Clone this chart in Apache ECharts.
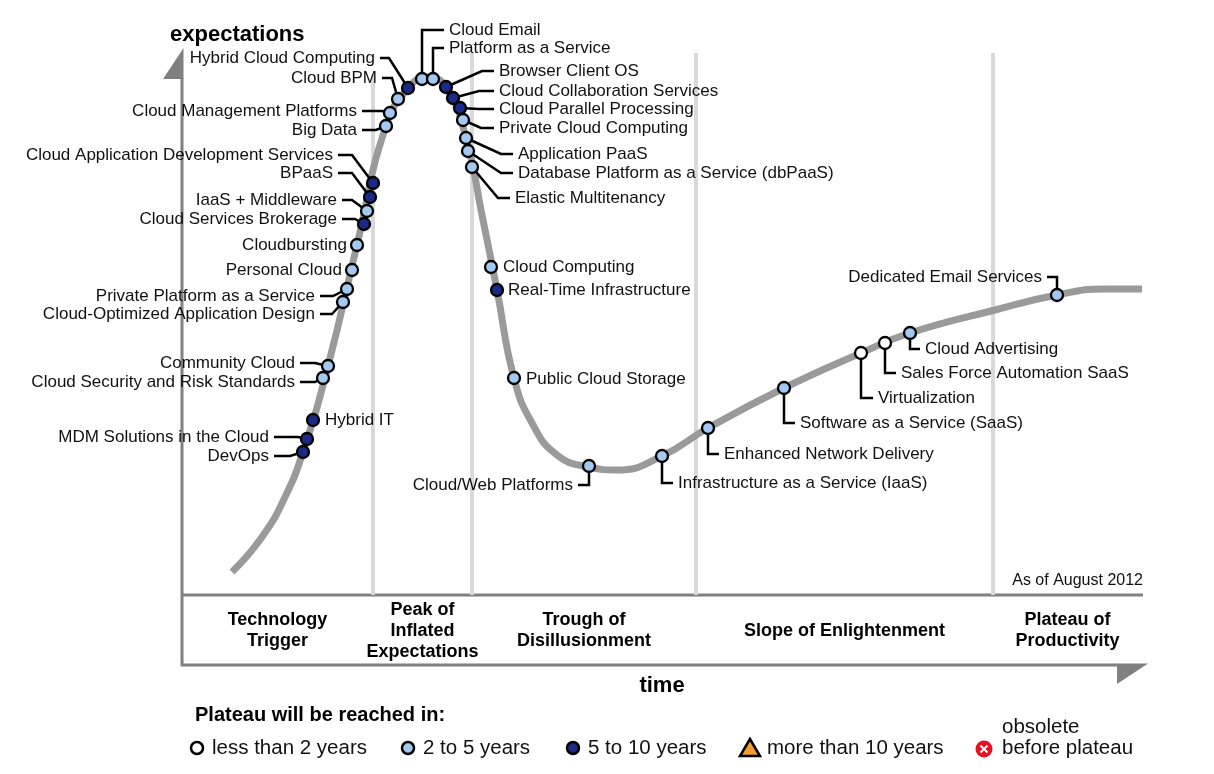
<!DOCTYPE html>
<html><head><meta charset="utf-8">
<script src="https://cdn.jsdelivr.net/npm/echarts@6/dist/echarts.min.js"></script>
<style>html,body{margin:0;padding:0;background:#fff}#c{width:1214px;height:774px}</style>
</head><body><div id="c"></div>
<script>
const FONT = '"Liberation Sans", Arial, Helvetica, sans-serif';

// ---- data ----
const techNames = [
  'DevOps', 'MDM Solutions in the Cloud', 'Hybrid IT', 'Cloud Security and Risk Standards',
  'Community Cloud', 'Cloud-Optimized Application Design', 'Private Platform as a Service',
  'Personal Cloud', 'Cloudbursting', 'Cloud Services Brokerage', 'IaaS + Middleware', 'BPaaS',
  'Cloud Application Development Services', 'Big Data', 'Cloud Management Platforms', 'Cloud BPM',
  'Hybrid Cloud Computing', 'Cloud Email', 'Platform as a Service', 'Browser Client OS',
  'Cloud Collaboration Services', 'Cloud Parallel Processing', 'Private Cloud Computing',
  'Application PaaS', 'Database Platform as a Service (dbPaaS)', 'Elastic Multitenancy',
  'Cloud Computing', 'Real-Time Infrastructure', 'Public Cloud Storage', 'Cloud/Web Platforms',
  'Infrastructure as a Service (IaaS)', 'Enhanced Network Delivery', 'Software as a Service (SaaS)',
  'Virtualization', 'Sales Force Automation SaaS', 'Cloud Advertising', 'Dedicated Email Services'
];
// position along time axis
const techTime = [121,125,131,141,146,161,165,170,175,182,185,188,191,204,208,216,226,240,251,264,271,278,281,284,286,290,309,315,332,407,480,526,602,679,703,728,875];
// expectations level
const techExpect = [143,156,175,217,229,293,306,325,350,371,384,398,412,469,482,496,507,516,516,508,497,487,475,457,444,428,328,305,217,129,139,167,207,242,252,262,300];
// years to plateau class: 0 <2, 1 2-5, 2 5-10
const techPlateau = [2,2,2,1,1,1,1,1,1,2,1,2,2,1,1,1,2,1,1,2,2,2,1,1,1,1,1,2,1,1,1,1,1,0,0,1,1];

// hype cycle curve
const curveTime   = [50,80,103,121,146,175,204,228,245,264,284,300,315,332,350,375,407,435,480,526,602,679,728,813,875,923,960];
const curveExpect = [23,58,98,143,229,350,469,509,518,508,457,380,305,217,172,140,128,125,139,167,207,242,262,285,300,306,306];

const phaseNames = ['Technology\nTrigger', 'Peak of\nInflated\nExpectations', 'Trough of\nDisillusionment', 'Slope of Enlightenment', 'Plateau of\nProductivity'];
const phaseBounds = [0, 191, 290, 514, 811, 960];
const separatorTop = [520, 542, 542, 542];

const plateauClasses = ['less than 2 years', '2 to 5 years', '5 to 10 years', 'more than 10 years', 'before plateau'];

// ---- label placement (pixel offsets from marker): [kind, dx, dy, elbow] ----
const labelPlacement = [
  ['L',-34,4,16], ['L',-38,-2,24], ['N',12,0], ['L',-28,4,15], ['L',-33,-3,15], ['L',-28,12,12],
  ['L',-32,7,13], ['N',-10,0], ['N',-10,0], ['L',-27,-5,13], ['L',-30,-11,10], ['L',-37,-24,14],
  ['L',-40,-28,14], ['L',-29,4,14], ['L',-33,-2,20], ['L',-21,-21,10], ['L',-33,-30,9],
  ['V',27,-49], ['V',16,-31], ['R',53,-16,12], ['R',46,-7,15], ['R',39,1,15], ['R',36,8,13],
  ['R',52,16,12], ['R',50,22,12], ['R',43,31,12],
  ['N',12,0], ['N',11,0], ['N',12,1], ['VL',-16,19],
  ['V',16,27], ['V',16,26], ['V',16,35], ['V',17,45], ['V',16,30], ['V',15,16], ['VL',-15,-18]
];

const classFill = ['#ffffff', '#a3c9f1', '#1b2a86'];
const LBL = '17px ' + FONT;
const LEG = '20.5px ' + FONT;

const chart = echarts.init(document.getElementById('c'), null, {renderer: 'canvas'});

const series = [];

// phase separators
series.push({
  type: 'custom', z: 1, silent: true,
  data: phaseBounds.slice(1, 5).map((b, i) => [b, separatorTop[i]]),
  renderItem: (params, api) => {
    const a = api.coord([api.value(0), 0]);
    const b = api.coord([api.value(0), api.value(1)]);
    return {type: 'line', shape: {x1: a[0], y1: a[1], x2: b[0], y2: b[1]},
      style: {stroke: '#d9d9d9', lineWidth: 4}};
  }
});

// curve
series.push({
  type: 'line', z: 2, silent: true, smooth: 0.5,
  symbol: 'none',
  data: curveTime.map((t, i) => [t, curveExpect[i]]),
  lineStyle: {color: '#9a9a9a', width: 7}
});

// phase labels
series.push({
  type: 'custom', z: 3, silent: true,
  data: phaseNames.map((n, i) => [phaseBounds[i], phaseBounds[i + 1], i]),
  renderItem: (params, api) => {
    const a = api.coord([api.value(0), 0]);
    const b = api.coord([api.value(1), 0]);
    return {type: 'text', x: (a[0] + b[0]) / 2, y: a[1] + 36,
      style: {text: phaseNames[api.value(2)], font: 'bold 18px ' + FONT, fill: '#000',
        align: 'center', verticalAlign: 'middle', lineHeight: 21}};
  }
});

// labels + leaders
series.push({
  type: 'custom', z: 4, silent: true,
  data: techNames.map((n, i) => [techTime[i], techExpect[i], i]),
  renderItem: (params, api) => {
    const p = api.coord([api.value(0), api.value(1)]);
    const i = api.value(2);
    const [kind, dx, dy, h] = labelPlacement[i];
    const tx = p[0] + dx, ty = p[1] + dy;
    let pts = null, align = 'left';
    if (kind === 'L') { pts = [[tx + 5, ty], [tx + 5 + h, ty], [p[0], p[1]]]; align = 'right'; }
    else if (kind === 'R') { pts = [[p[0], p[1]], [tx - 5 - h, ty], [tx - 5, ty]]; }
    else if (kind === 'V') { pts = [[p[0], p[1]], [p[0], ty], [tx - 5, ty]]; }
    else if (kind === 'VL') { pts = [[p[0], p[1]], [p[0], ty], [tx + 5, ty]]; align = 'right'; }
    else { align = dx < 0 ? 'right' : 'left'; }
    const children = [];
    if (pts) children.push({type: 'polyline', shape: {points: pts},
      style: {stroke: '#000', lineWidth: 2.5, fill: null, lineJoin: 'miter'}});
    children.push({type: 'text', x: tx, y: ty,
      style: {text: techNames[i], font: LBL, fill: '#111', align: align, verticalAlign: 'middle'}});
    return {type: 'group', children};
  }
});

// markers
[0, 1, 2].forEach(k => {
  series.push({
    type: 'scatter', name: plateauClasses[k], z: 6, silent: true,
    symbol: 'circle', symbolSize: 12,
    data: techNames.map((n, i) => i).filter(i => techPlateau[i] === k).map(i => [techTime[i], techExpect[i]]),
    itemStyle: {color: classFill[k], borderColor: '#000', borderWidth: 2.3, opacity: 1}
  });
});

const G = '#808080';
const graphic = [
  // axes frame
  {type: 'line', shape: {x1: 182, y1: 78, x2: 182, y2: 666}, style: {stroke: G, lineWidth: 3}},
  {type: 'polygon', shape: {points: [[183.5, 48], [163, 79], [183.5, 79]]}, style: {fill: G}},
  {type: 'line', shape: {x1: 181, y1: 595, x2: 1143, y2: 595}, style: {stroke: G, lineWidth: 3}},
  {type: 'line', shape: {x1: 181, y1: 665, x2: 1118, y2: 665}, style: {stroke: G, lineWidth: 3}},
  {type: 'polygon', shape: {points: [[1117, 663.5], [1148, 663.5], [1117, 684]]}, style: {fill: G}},
  // titles
  {type: 'text', x: 170, y: 35, style: {text: 'expectations', font: 'bold 22px ' + FONT, fill: '#000', align: 'left', verticalAlign: 'middle'}},
  {type: 'text', x: 662, y: 686, style: {text: 'time', font: 'bold 22px ' + FONT, fill: '#000', align: 'center', verticalAlign: 'middle'}},
  {type: 'text', x: 1143, y: 581, style: {text: 'As of August 2012', font: '16px ' + FONT, fill: '#111', align: 'right', verticalAlign: 'middle'}},
  // legend
  {type: 'text', x: 195, y: 715, style: {text: 'Plateau will be reached in:', font: 'bold 20px ' + FONT, fill: '#000', align: 'left', verticalAlign: 'middle'}},
  {type: 'circle', shape: {cx: 197, cy: 748, r: 6}, style: {fill: classFill[0], stroke: '#000', lineWidth: 2.5}},
  {type: 'text', x: 212, y: 748, style: {text: plateauClasses[0], font: LEG, fill: '#111', align: 'left', verticalAlign: 'middle'}},
  {type: 'circle', shape: {cx: 408, cy: 748, r: 6}, style: {fill: classFill[1], stroke: '#000', lineWidth: 2.5}},
  {type: 'text', x: 423, y: 748, style: {text: plateauClasses[1], font: LEG, fill: '#111', align: 'left', verticalAlign: 'middle'}},
  {type: 'circle', shape: {cx: 573, cy: 748, r: 6}, style: {fill: classFill[2], stroke: '#000', lineWidth: 2.5}},
  {type: 'text', x: 588, y: 748, style: {text: plateauClasses[2], font: LEG, fill: '#111', align: 'left', verticalAlign: 'middle'}},
  {type: 'polygon', shape: {points: [[750, 739], [740, 756], [760, 756]]}, style: {fill: '#f0a030', stroke: '#000', lineWidth: 2.5, lineJoin: 'miter'}},
  {type: 'text', x: 767, y: 748, style: {text: plateauClasses[3], font: LEG, fill: '#111', align: 'left', verticalAlign: 'middle'}},
  {type: 'circle', shape: {cx: 984, cy: 749, r: 8.5}, style: {fill: '#e8101e'}},
  {type: 'line', shape: {x1: 980.5, y1: 745.5, x2: 987.5, y2: 752.5}, style: {stroke: '#fff', lineWidth: 2}},
  {type: 'line', shape: {x1: 987.5, y1: 745.5, x2: 980.5, y2: 752.5}, style: {stroke: '#fff', lineWidth: 2}},
  {type: 'text', x: 1002, y: 727, style: {text: 'obsolete', font: LEG, fill: '#111', align: 'left', verticalAlign: 'middle'}},
  {type: 'text', x: 1002, y: 748, style: {text: plateauClasses[4], font: LEG, fill: '#111', align: 'left', verticalAlign: 'middle'}}
];

chart.setOption({
  animation: false,
  backgroundColor: '#ffffff',
  grid: {left: 182, right: 72, top: 45, bottom: 179},
  xAxis: {type: 'value', min: 0, max: 960, show: false},
  yAxis: {type: 'value', min: 0, max: 550, show: false},
  series: series,
  graphic: graphic
});
</script></body></html>
